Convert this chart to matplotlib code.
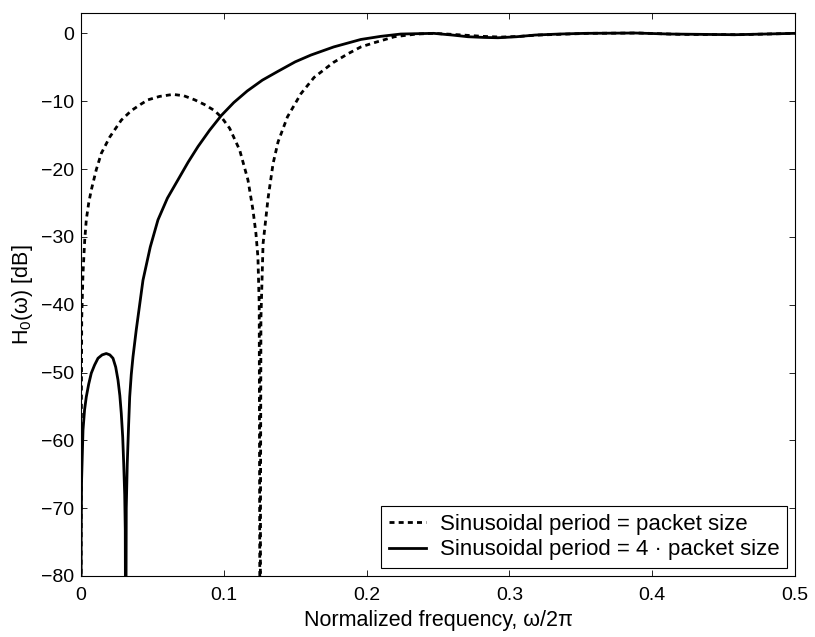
import numpy as np
import matplotlib
matplotlib.use('Agg')
import matplotlib.pyplot as plt

plt.rcParams['font.family'] = ['Liberation Sans', 'DejaVu Sans']
plt.rcParams['mathtext.fontset'] = 'custom'
plt.rcParams['mathtext.rm'] = 'Liberation Sans'

# values (dB, -100 = null below the axis)
freq_short = np.array([0.0, 0.0002, 0.0005, 0.0014, 0.0026, 0.0037, 0.0054, 0.0072, 0.0107,
                       0.0142, 0.0201, 0.0282, 0.0352, 0.0415, 0.0469, 0.055, 0.0644,
                       0.072, 0.0796, 0.0865, 0.0936, 0.0985, 0.1041, 0.1111, 0.1169,
                       0.1204, 0.1225, 0.1239, 0.1248, 0.1254, 0.126, 0.1275, 0.131,
                       0.1345, 0.138, 0.1446, 0.154, 0.1632, 0.1767, 0.187, 0.196, 0.205,
                       0.2195, 0.235, 0.247, 0.26, 0.271, 0.282, 0.294, 0.307, 0.32,
                       0.355, 0.39, 0.42, 0.46, 0.5])
gain_short = np.array([-100, -60, -42, -35.4, -30.5, -27.5, -25.0, -23.1, -20.1,
                       -17.7, -15.3, -12.8, -11.4, -10.5, -9.8, -9.3, -9.0,
                       -9.2, -9.8, -10.5, -11.4, -12.4, -14.0, -17.2, -21.6,
                       -26.0, -29.5, -33.0, -40.0, -100, -42, -31.0, -24.3,
                       -19.2, -16.0, -12.3, -8.9, -6.5, -4.3, -3.0, -2.0, -1.4,
                       -0.5, -0.1, 0.0, -0.15, -0.3, -0.45, -0.55, -0.45, -0.25,
                       0.0, 0.05, -0.15, -0.2, 0.0])

freq_long = np.array([0.0, 0.0001, 0.0004, 0.0014, 0.0025, 0.0037, 0.0054, 0.0072, 0.0095,
                      0.0119, 0.0148, 0.0177, 0.0202, 0.0224, 0.0243, 0.0259, 0.0272,
                      0.0282, 0.0292, 0.0299, 0.0306, 0.031, 0.0313, 0.0317, 0.0324,
                      0.0333, 0.0341, 0.0352, 0.0364, 0.0387, 0.0434, 0.0485, 0.0539,
                      0.0605, 0.0679, 0.075, 0.0819, 0.09, 0.0983, 0.107, 0.1164, 0.127,
                      0.1375, 0.15, 0.161, 0.177, 0.196, 0.21, 0.224, 0.247, 0.26, 0.271,
                      0.282, 0.292, 0.305, 0.318, 0.335, 0.353, 0.388, 0.412, 0.458, 0.5])
gain_long = np.array([-100, -75, -66, -58.5, -55.5, -53.6, -51.7, -50.1, -48.9,
                      -47.9, -47.4, -47.2, -47.4, -47.9, -49.2, -51.1, -53.4,
                      -56.0, -59.5, -63.4, -68.0, -73.2, -100, -70, -63.4,
                      -58.0, -53.6, -50.3, -47.7, -43.7, -36.4, -31.5, -27.5,
                      -24.3, -21.6, -19.0, -16.7, -14.3, -12.1, -10.2, -8.5, -6.9,
                      -5.65, -4.2, -3.2, -2.0, -0.9, -0.44, -0.1, 0.0, -0.25, -0.5,
                      -0.6, -0.65, -0.5, -0.25, -0.1, 0.0, 0.05, -0.1, -0.2, 0.0])

labels = ['Sinusoidal period = packet size',
          'Sinusoidal period = 4 \u00b7 packet size']

fig = plt.figure(figsize=(8.15, 6.37), dpi=100)
ax = fig.add_axes([81/815, 1 - 576/637, (795 - 81)/815, (576 - 13)/637])

ax.plot(freq_short, gain_short, color='black', lw=2, linestyle=(0, (1.8, 1.5)),
        label=labels[0])
ax.plot(freq_long, gain_long, color='black', lw=2, label=labels[1])

ax.set_xlim(0, 0.5)
ax.set_ylim(-80, 3)
ax.set_xticks([0, 0.1, 0.2, 0.3, 0.4, 0.5])
ax.set_xticklabels(['0', '0.1', '0.2', '0.3', '0.4', '0.5'])
ax.set_yticks(np.arange(-80, 1, 10))
ax.tick_params(direction='in', top=True, right=True, length=4.5, width=0.6,
               labelsize=14)
ax.tick_params(axis='x', pad=8)
ax.tick_params(axis='y', pad=5)
for s in ax.spines.values():
    s.set_linewidth(0.8)

ax.set_xlabel('Normalized frequency, \u03c9/2\u03c0', fontsize=15.5, labelpad=4.5)
ax.set_ylabel('H$_\\mathrm{0}$(\u03c9) [dB]', fontsize=15.5, labelpad=4)

leg = ax.legend(loc='lower right', bbox_to_anchor=(0.989, 0.014), borderaxespad=0,
                fontsize=16, fancybox=False, edgecolor='black', framealpha=1,
                handlelength=1.67, handletextpad=0.63, labelspacing=0.2,
                borderpad=0.35)
leg.get_frame().set_linewidth(0.8)

plt.savefig('out.png', dpi=100)
